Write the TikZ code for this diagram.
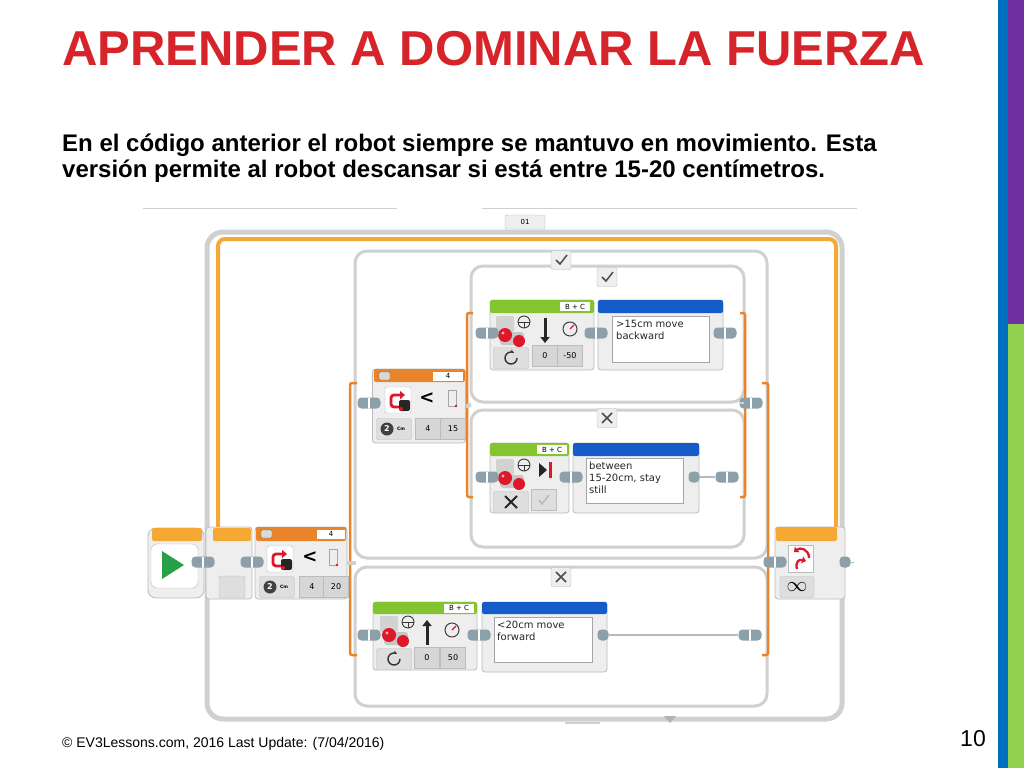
\documentclass[tikz,border=0pt]{standalone}
\usepackage{fontspec}
\setmainfont{Liberation Sans}
\newfontfamily\evfont{DejaVu Sans}
\usetikzlibrary{arrows.meta}

\definecolor{titlered}{RGB}{214,36,42}
\definecolor{barblue}{RGB}{0,112,192}
\definecolor{barpurple}{RGB}{112,48,160}
\definecolor{bargreen}{RGB}{146,208,80}
\definecolor{loopor}{RGB}{245,168,52}
\definecolor{swor}{RGB}{234,132,42}
\definecolor{framegray}{RGB}{208,208,208}
\definecolor{blockgray}{RGB}{238,238,238}
\definecolor{edgegray}{RGB}{188,188,188}
\definecolor{btngray}{RGB}{222,222,222}
\definecolor{fldgray}{RGB}{214,214,214}
\definecolor{movegreen}{RGB}{132,196,48}
\definecolor{cmtblue}{RGB}{22,92,200}
\definecolor{plugcol}{RGB}{140,160,170}
\definecolor{evred}{RGB}{222,24,40}
\definecolor{startgreen}{RGB}{40,160,72}

\begin{document}
\begin{tikzpicture}[x=1pt, y=-1pt,
  frame/.style={draw=framegray, line width=3pt, rounded corners=12pt},
  loopline/.style={draw=loopor, line width=4pt, rounded corners=7pt},
  swline/.style={draw=swor, line width=2.5pt, rounded corners=2pt},
  junction/.style={draw=framegray, line width=4pt},
  wire/.style={draw=gray!55, line width=1.4pt},
  body/.style={draw=edgegray, fill=blockgray, line width=0.8pt, rounded corners=3pt, inner sep=0pt},
  btn/.style={draw=edgegray, fill=btngray, rounded corners=2pt, minimum width=35pt, minimum height=21pt, inner sep=0pt},
  fld/.style={fill=fldgray, draw=edgegray, line width=0.4pt, minimum width=25pt, minimum height=21pt, inner sep=0pt, font=\evfont\fontsize{8}{8}\selectfont},
  lbl/.style={fill=white, inner sep=0pt, minimum height=9pt, font=\evfont\fontsize{7}{7}\selectfont},
  note/.style={draw=gray!70, fill=white, line width=0.6pt, inner sep=0pt},
  notetext/.style={anchor=north west, inner sep=0pt, align=left, font=\evfont\fontsize{10}{12}\selectfont, text=black!85},
  tab/.style={draw=edgegray, fill=blockgray, rounded corners=2pt, minimum width=20pt, minimum height=19pt, inner sep=0pt},
  plug/.style={fill=plugcol, rounded corners=4pt, minimum width=23pt, minimum height=11pt, inner sep=0pt,
    path picture={\draw[white, line width=1.2pt] (path picture bounding box.north) -- (path picture bounding box.south);}},
  halfplug/.style={fill=plugcol, rounded corners=4pt, minimum width=11pt, minimum height=11pt, inner sep=0pt}]

\useasboundingbox (0,0) rectangle (1024,768);
\fill[white] (0,0) rectangle (1024,768);

% side bars
\fill[barblue] (998,0) rectangle (1008,768);
\fill[barpurple] (1008,0) rectangle (1024,324);
\fill[bargreen] (1008,324) rectangle (1024,768);

% texts
\node[anchor=base west, inner sep=0pt, text=titlered, font=\bfseries\fontsize{49}{55}\selectfont] (title) at (62,66) {APRENDER A DOMINAR LA FUERZA};
\node[anchor=base west, inner sep=0pt, font=\bfseries\fontsize{24}{26}\selectfont] (body1) at (62,151) {En el código anterior el robot siempre se mantuvo en movimiento. Esta};
\node[anchor=base west, inner sep=0pt, font=\bfseries\fontsize{24}{26}\selectfont] (body2) at (62,177) {versión permite al robot descansar si está entre 15-20 centímetros.};
\node[anchor=base west, inner sep=0pt, font=\fontsize{14}{16}\selectfont] (foot) at (62,747) {© EV3Lessons.com, 2016 Last Update: (7/04/2016)};
\node[anchor=base east, inner sep=0pt, font=\fontsize{23}{26}\selectfont] (pageno) at (986,746) {10};

% top rulers
\draw[framegray, line width=1pt] (143,208) -- (397,208);
\draw[framegray, line width=1pt] (482,208) -- (857,208);
\node[tab, minimum width=40pt, minimum height=14pt, font=\evfont\fontsize{7}{7}\selectfont] (tab01) at (525,222) {01};

% frames
\draw[frame, line width=5pt, rounded corners=16pt] (207,232) rectangle (842,719);
\draw[frame] (355,251) rectangle (767,558);
\draw[frame] (355,567) rectangle (767,706);
\draw[frame] (471,266) rectangle (744,402);
\draw[frame] (471,410) rectangle (744,547);
\fill[gray!60] (664,716) -- (676,716) -- (670,723) -- cycle;
\draw[framegray, line width=1.5pt] (565,723) -- (600,723);

% orange lines
\draw[loopline] (218,530) -- (218,239) -- (836,239) -- (836,530);
\draw[swline] (357,383) -- (350,383) -- (350,655) -- (357,655);
\draw[swline] (762,383) -- (768,383) -- (768,655) -- (762,655);
\draw[swline] (473,313) -- (467,313) -- (467,497) -- (473,497);
\draw[swline] (740,313) -- (745,313) -- (745,497) -- (740,497);

% tabs
\node[tab] (tabA) at (561,260) {};
\node[tab] (tabB) at (607,277) {};
\node[tab] (tabC) at (607,418) {};
\node[tab] (tabD) at (561,577) {};
\draw[gray!60!black, line width=1.5pt] (556,260) -- (560,264) -- (567,255);
\draw[gray!60!black, line width=1.5pt] (602,277) -- (606,281) -- (613,272);
\draw[gray!60!black, line width=1.5pt] (602,413) -- (612,423) (602,423) -- (612,413);
\draw[gray!60!black, line width=1.5pt] (556,572) -- (566,582) (556,582) -- (566,572);

% start and loop start
\node[body, rounded corners=8pt, minimum width=56pt, minimum height=70pt] (start) at (176,563) {};
\fill[loopor, rounded corners=2pt] (152,528) rectangle (202,541);
\draw[edgegray, fill=white, rounded corners=6pt] (151,544) rectangle (198,588);
\fill[startgreen] (162,551) -- (162,579) -- (184,565) -- cycle;
\node[body, minimum width=46pt, minimum height=72pt] (lpA) at (229,563) {};
\fill[loopor, rounded corners=2pt] (213,528) rectangle (251,541);
\draw[edgegray, fill=btngray, rounded corners=2pt] (219,576) rectangle (245,598);

% switch blocks
\node[body, minimum width=92pt, minimum height=72pt] (sw1) at (301,563) {};
\fill[swor, rounded corners=2pt] (256,527) rectangle (346,541);
\draw[black!60, fill=gray!30, rounded corners=1pt] (261,530) rectangle (272,538);
\node[lbl, minimum width=28pt] (thr1) at (331,534) {4};
\node[font=\evfont\bfseries\fontsize{18}{18}\selectfont, inner sep=0pt] (lt1) at (310,557) {<};
\node[btn] (mode1) at (277,587) {};
\node[fld] (port1) at (312,587) {4};
\node[fld] (val1) at (336,587) {20};

\node[body, minimum width=93pt, minimum height=74pt] (sw2) at (419,406) {};
\fill[swor, rounded corners=2pt] (374,369) rectangle (465,382);
\draw[black!60, fill=gray!30, rounded corners=1pt] (379,372) rectangle (390,380);
\node[lbl, minimum width=30pt] (thr2) at (448,376) {4};
\node[font=\evfont\bfseries\fontsize{18}{18}\selectfont, inner sep=0pt] (lt2) at (427,398) {<};
\node[btn] (mode2) at (394,429) {};
\node[fld] (port2) at (428,429) {4};
\node[fld] (val2) at (453,429) {15};

% sensor icons, phone icons, mode buttons
\foreach \sx/\sy in {280/559, 398/400} {
  \begin{scope}[shift={(\sx,\sy)}]
    \draw[edgegray, fill=white, rounded corners=2pt] (-13,-13) rectangle (13,13);
    \draw[evred, line width=2.8pt, rounded corners=3pt, -{Triangle[length=5pt,width=8pt]}] (3,7) -- (-7,7) -- (-7,-5) -- (7,-5);
    \fill[black!85, rounded corners=2pt] (1,0) rectangle (12,11);
    \fill[evred] (3,9) circle (2);
  \end{scope}
}
\foreach \sx/\sy in {333/557, 452/398} {
  \draw[gray!70, line width=1pt] (\sx-4,\sy-8) rectangle (\sx+4,\sy+8);
  \fill[evred] (\sx+4,\sy+8) circle (1.3);
}
\foreach \sx/\sy in {277/587, 394/429} {
  \fill[black!75] (\sx-7,\sy) circle (6.5);
  \node[text=white, font=\evfont\bfseries\fontsize{8}{8}\selectfont, inner sep=0pt] at (\sx-7,\sy) {2};
  \node[font=\evfont\bfseries\fontsize{4.5}{5}\selectfont, inner sep=0pt] at (\sx+7,\sy) {Cm};
}

% move blocks
\node[body, minimum width=104pt, minimum height=70pt] (mv1) at (542,335) {};
\fill[movegreen, rounded corners=2pt] (490,300) rectangle (594,313);
\node[lbl, minimum width=30pt] (port3) at (575,306.5) {B + C};
\node[body, minimum width=79pt, minimum height=70pt] (mv2) at (529.5,478) {};
\fill[movegreen, rounded corners=2pt] (490,443) rectangle (569,456);
\node[lbl, minimum width=30pt] (port4) at (552,449.5) {B + C};
\node[body, minimum width=104pt, minimum height=68pt] (mv3) at (425,636) {};
\fill[movegreen, rounded corners=2pt] (373,602) rectangle (477,614);
\node[lbl, minimum width=30pt] (port5) at (459,608) {B + C};

\foreach \mx/\my in {514/330, 514/473, 398/630} {
  \begin{scope}[shift={(\mx,\my)}]
    \fill[gray!35, rounded corners=2pt] (-18,-14) rectangle (0,2);
    \draw[gray!45!black, line width=0.9pt] (10,-8) circle (6);
    \draw[gray!45!black, line width=0.9pt] (4,-8) -- (16,-8) (10,-8) -- (10,-2);
    \fill[gray!45, rounded corners=3pt] (-14,2) rectangle (10,15);
    \fill[evred] (-9,5) circle (7);
    \fill[evred] (5,11) circle (6);
    \fill[white!70!evred] (-11,3) circle (1.6);
  \end{scope}
}

% upper inner move: backward
\draw[black!85, line width=3pt, -{Triangle[length=6pt,width=9pt]}] (545,318) -- (545,343);
\draw[gray!50!black, line width=1pt] (570,329) circle (7);
\draw[evred, line width=1.2pt] (570,329) -- (574,325);
\node[btn] (rot1) at (511,358) {};
\draw[black!80, line width=1.4pt, -{Stealth[length=4pt]}] (517,358) arc[start angle=0, end angle=300, radius=6];
\node[fld] (spd1) at (545,356) {0};
\node[fld] (pow1) at (570,356) {-50};

% lower inner move: stop
\fill[black!85] (539,463) -- (539,477) -- (547,470) -- cycle;
\fill[evred] (549,462) rectangle (552,478);
\node[btn] (brk1) at (511,502) {};
\draw[black!85, line width=2pt] (505,496) -- (517,508) (505,508) -- (517,496);
\node[fld, fill=btngray] (chk1) at (544,500) {};
\draw[gray!55, line width=1.5pt] (539,500) -- (542,504) -- (549,495);

% lower outer move: forward
\draw[black!85, line width=3pt, -{Triangle[length=6pt,width=9pt]}] (427,645) -- (427,620);
\draw[gray!50!black, line width=1pt] (452,630) circle (7);
\draw[evred, line width=1.2pt] (452,630) -- (456,626);
\node[btn] (rot2) at (394,659) {};
\draw[black!80, line width=1.4pt, -{Stealth[length=4pt]}] (400,659) arc[start angle=0, end angle=300, radius=6];
\node[fld] (spd2) at (427,658) {0};
\node[fld] (pow2) at (453,658) {50};

% comment blocks
\node[body, minimum width=125pt, minimum height=70pt] (cm1) at (660.5,335) {};
\fill[cmtblue, rounded corners=2pt] (598,300) rectangle (723,313);
\node[note, minimum width=97pt, minimum height=46pt] (txt1) at (660.5,339) {};
\node[notetext] (t1) at (616,320) {>15cm move\\backward};

\node[body, minimum width=126pt, minimum height=70pt] (cm2) at (636,478) {};
\fill[cmtblue, rounded corners=2pt] (573,443) rectangle (699,456);
\node[note, minimum width=97pt, minimum height=45pt] (txt2) at (634.5,480.5) {};
\node[notetext] (t2) at (589,462) {between\\15-20cm, stay\\still};

\node[body, minimum width=125pt, minimum height=70pt] (cm3) at (544.5,637) {};
\fill[cmtblue, rounded corners=2pt] (482,602) rectangle (607,614);
\node[note, minimum width=98pt, minimum height=45pt] (txt3) at (543,639.5) {};
\node[notetext] (t3) at (497,621) {<20cm move\\forward};

% loop end
\node[body, minimum width=70pt, minimum height=72pt] (lpB) at (810,563) {};
\fill[loopor, rounded corners=2pt] (776,527) rectangle (837,541);
\draw[edgegray, fill=white] (788,545) rectangle (813,572);
\draw[evred, line width=2.3pt, -{Triangle[length=4pt,width=7pt]}] (809,558) .. controls (809,549) and (800,547) .. (794,552);
\draw[evred, line width=2.3pt, -{Triangle[length=4pt,width=7pt]}] (797,569) .. controls (795,562) and (799,559) .. (806,561);
\node[btn, minimum width=34pt] (inf) at (797,587) {\fontsize{20}{20}\selectfont$\infty$};

% junctions
\coordinate (jA) at (356,563);
\coordinate (jB) at (767,563);
\coordinate (jC) at (471,405);
\coordinate (jD) at (744,403);
\draw[junction] (sw1.east) -- (jA);
\draw[junction] (jB) -- (lpB.west);
\draw[junction] (sw2.east) -- (jC);

% plugs
\node[plug] (pS) at (203,562) {};
\node[plug] (pA) at (252,562) {};
\node[plug] (p3) at (369,403) {};
\node[plug] (p4) at (487,333) {};
\node[plug] (p5) at (596,333) {};
\node[plug] (p6) at (725,333) {};
\node[plug] (p7) at (487,477) {};
\node[plug] (p8) at (571,477) {};
\node[halfplug] (p9) at (694,477) {};
\node[plug] (p10) at (727,477) {};
\node[plug] (p11) at (751,403) {};
\node[plug] (p12) at (369,635) {};
\node[plug] (p13) at (479,635) {};
\node[halfplug] (p14) at (603,635) {};
\node[plug] (p15) at (750,635) {};
\node[plug] (p16) at (775,562) {};
\node[halfplug] (p17) at (845,562) {};
\coordinate (pEnd) at (854,562);

\draw[junction, line width=2.5pt] (jD) -- (p11);
\draw[wire] (p9) -- (p10);
\draw[wire] (p14) -- (p15);
\draw[wire, line width=1pt] (p17) -- (pEnd);

\end{tikzpicture}
\end{document}
